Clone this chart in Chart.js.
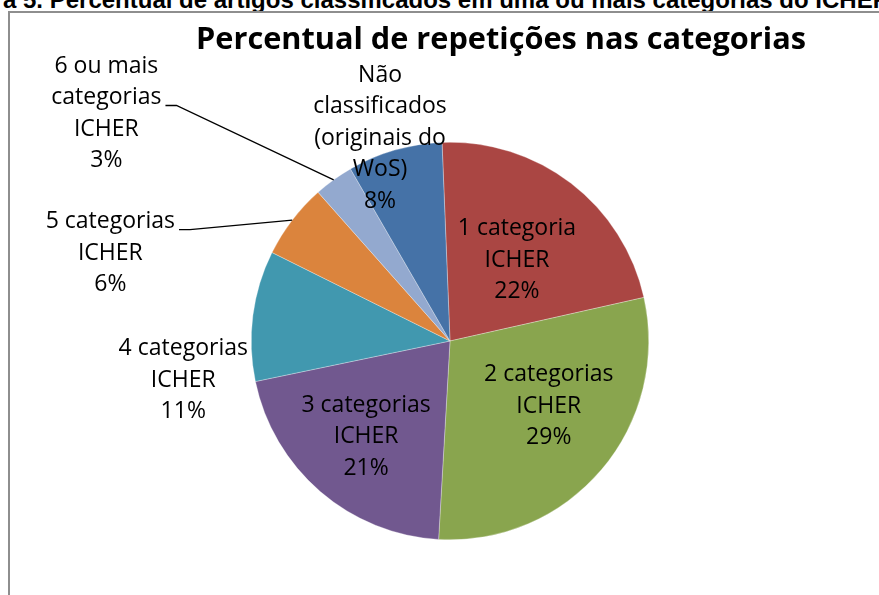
<!DOCTYPE html>
<html>
<head>
<meta charset="utf-8">
<script src="https://cdn.jsdelivr.net/npm/chart.js@4.4.0/dist/chart.umd.min.js"></script>
<style>
  html, body { margin: 0; padding: 0; background: #fff; }
  body { width: 879px; height: 595px; position: relative; overflow: hidden; }
  #caption {
    position: absolute; left: -57px; top: -14px; white-space: nowrap;
    font: bold 24px "Liberation Sans", Arial, sans-serif; line-height: 28px; color: #000;
  }
  #frame {
    position: absolute; left: 8px; top: 11px; width: 1000px; height: 800px;
    border-left: 2px solid #8e8e8e; border-top: 2px solid #8e8e8e;
  }
  #pie { position: absolute; left: 0; top: 0; }
</style>
</head>
<body>
<div id="caption">Figura 5. Percentual de artigos classificados em uma ou mais categorias do ICHER</div>
<div id="frame"></div>
<canvas id="pie" width="879" height="595"></canvas>
<script>
// categorias (ordem do Excel, sentido horário a partir do topo)
const categorias = [
  ['1 categoria', 'ICHER'],
  ['2 categorias', 'ICHER'],
  ['3 categorias', 'ICHER'],
  ['4 categorias', 'ICHER'],
  ['5 categorias', 'ICHER'],
  ['6 ou mais', 'categorias', 'ICHER'],
  ['Não', 'classificados', '(originais do', 'WoS)']
];
const percentuais = [22.1, 29.4, 20.8, 10.6, 6.1, 3.2, 7.7];
const cores = ['#AA4643', '#89A54E', '#71588F', '#4198AF', '#DB843D', '#93A9CF', '#4572A7'];

// posição do rótulo relativa ao centro, em frações do raio
const posRotulo = [[0.337, -0.407], [0.497, 0.327], [-0.422, 0.482], [-1.342, 0.196],
                   [-1.709, -0.442], [-1.729, -1.146], [-0.352, -1.020]];
// linha do rótulo onde começa a linha de chamada (null = sem linha)
const linhaChamada = [null, null, null, null, 0, 1, null];

const rotulosPlugin = {
  id: 'rotulos',
  afterDatasetsDraw(chart) {
    const ctx = chart.ctx;
    const meta = chart.getDatasetMeta(0);
    const total = percentuais.reduce((a, b) => a + b, 0);
    ctx.save();
    // titulo
    ctx.fillStyle = '#000';
    ctx.font = 'bold 30.7px "Open Sans", sans-serif';
    ctx.textAlign = 'center';
    ctx.textBaseline = 'alphabetic';
    ctx.fillText('Percentual de repetições nas categorias', 501, 49);

    ctx.font = '23px "Open Sans", sans-serif';
    ctx.textBaseline = 'middle';
    const lh = 31.5;
    meta.data.forEach((arc, i) => {
      const p = arc.getProps(['x', 'y', 'outerRadius', 'startAngle', 'endAngle'], true);
      const R = p.outerRadius;
      const lines = categorias[i].concat([Math.round(percentuais[i] / total * 100) + '%']);
      const cx = p.x + posRotulo[i][0] * R;
      const cy = p.y + posRotulo[i][1] * R;
      const y0 = cy - (lines.length - 1) * lh / 2;
      lines.forEach((t, k) => ctx.fillText(t, cx, y0 + k * lh));
      if (linhaChamada[i] !== null) {
        const k = linhaChamada[i];
        const w = ctx.measureText(lines[k]).width;
        const lx = cx + w / 2 + 4;
        const ly = y0 + k * lh + 8;
        const a = (p.startAngle + p.endAngle) / 2;
        ctx.beginPath();
        ctx.strokeStyle = '#000';
        ctx.lineWidth = 1.3;
        ctx.moveTo(lx, ly);
        ctx.lineTo(lx + 11, ly);
        ctx.lineTo(p.x + R * Math.cos(a), p.y + R * Math.sin(a));
        ctx.stroke();
      }
    });
    ctx.restore();
  }
};

new Chart(document.getElementById('pie'), {
  type: 'pie',
  data: {
    labels: categorias,
    datasets: [{
      data: percentuais,
      backgroundColor: cores,
      borderColor: 'rgba(255,255,255,0.6)',
      borderWidth: 0.5,
      hoverOffset: 0
    }]
  },
  options: {
    responsive: false,
    animation: false,
    devicePixelRatio: 1,
    rotation: -2.3,
    layout: { padding: { top: 142, bottom: 55, left: 251, right: 230 } },
    plugins: {
      legend: { display: false },
      title: { display: false },
      tooltip: { enabled: false }
    }
  },
  plugins: [rotulosPlugin]
});
</script>
</body>
</html>
